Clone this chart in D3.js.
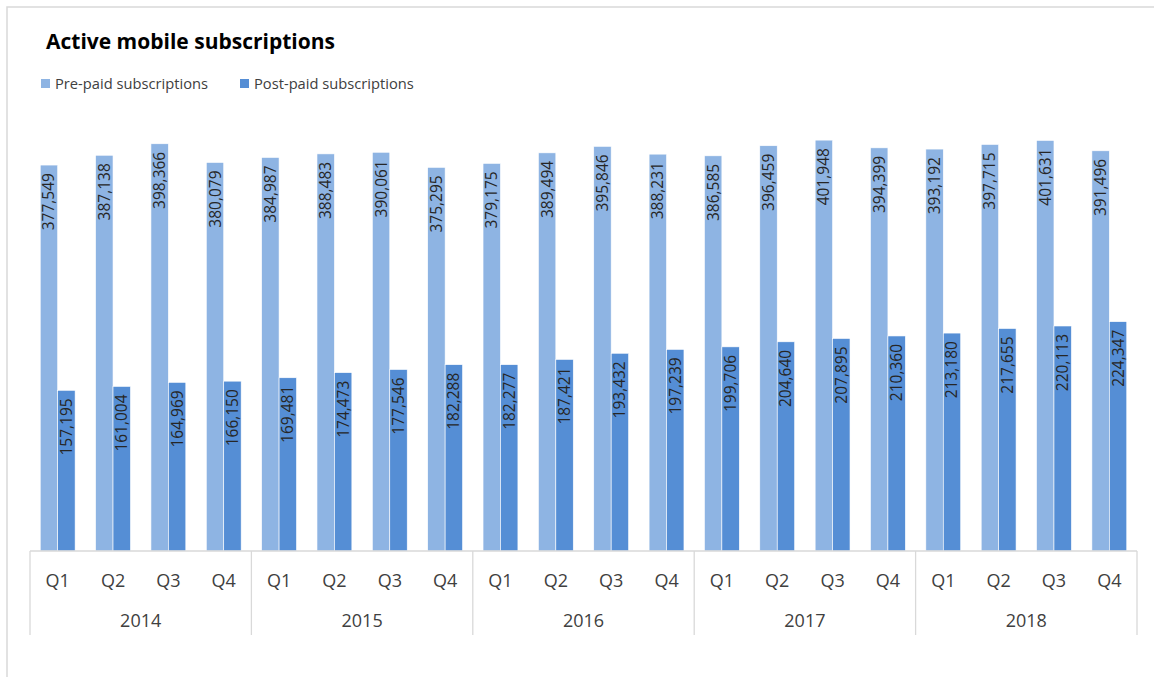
<!DOCTYPE html>
<html>
<head>
<meta charset="utf-8">
<script src="https://cdn.jsdelivr.net/npm/d3@7"></script>
<style>
  html, body { margin: 0; padding: 0; background: #fff; }
  svg { display: block; }
</style>
</head>
<body>
<svg id="chart" width="1154" height="677"></svg>
<script>
// Quarterly active mobile subscriptions, 2014–2018
const years = ["2014", "2015", "2016", "2017", "2018"];
const quarters = ["Q1", "Q2", "Q3", "Q4"];
const seriesNames = ["Pre-paid subscriptions", "Post-paid subscriptions"];
const prePaid = [377549, 387138, 398366, 380079, 384987, 388483, 390061, 375295, 379175, 389494,
                 395846, 388231, 386585, 396459, 401948, 394399, 393192, 397715, 401631, 391496];
const postPaid = [157195, 161004, 164969, 166150, 169481, 174473, 177546, 182288, 182277, 187421,
                  193432, 197239, 199706, 204640, 207895, 210360, 213180, 217655, 220113, 224347];

const colors = ["#8eb4e3", "#558ed5"];
const font = "Open Sans, Liberation Sans, sans-serif";

// one row per quarter
const rows = [];
years.forEach((y, yi) => quarters.forEach((q, qi) => {
  const i = yi * quarters.length + qi;
  rows.push({ key: y + "-" + q, year: y, quarter: q, values: [prePaid[i], postPaid[i]] });
}));

const svg = d3.select("#chart");

// chart frame
svg.append("path")
  .attr("d", "M7,677 L7,7 L1154,7")
  .attr("fill", "none").attr("stroke", "#d9d9d9").attr("stroke-width", 1.5);

// title
svg.append("text")
  .attr("x", 46).attr("y", 49)
  .attr("font-family", font).attr("font-weight", 700).attr("font-size", 21)
  .attr("fill", "#000")
  .text("Active mobile subscriptions");

// legend
const legend = svg.append("g").attr("font-family", font).attr("font-size", 14.7).attr("fill", "#404040");
const legendX = [41, 240];
seriesNames.forEach((name, i) => {
  legend.append("rect").attr("x", legendX[i]).attr("y", 79).attr("width", 9).attr("height", 9).attr("fill", colors[i]);
  legend.append("text").attr("x", legendX[i] + 14).attr("y", 88.5).text(name);
});

// scales
const left = 30, right = 1137, baseY = 551, topY = 91;
const x = d3.scaleBand().domain(rows.map(d => d.key)).range([left, right]).paddingInner(0.37).paddingOuter(0.185);
const xs = d3.scaleBand().domain([0, 1]).range([0, x.bandwidth()]);
const y = d3.scaleLinear().domain([0, 450000]).range([baseY, topY]);

// bars
const groups = svg.append("g").selectAll("g").data(rows).join("g")
  .attr("transform", d => `translate(${x(d.key)},0)`);

groups.selectAll("rect").data(d => d.values.map((v, i) => ({ v, i }))).join("rect")
  .attr("x", d => xs(d.i))
  .attr("y", d => y(d.v))
  .attr("width", xs.bandwidth())
  .attr("height", d => y(0) - y(d.v))
  .attr("fill", d => colors[d.i])
  .attr("stroke", "#ffffff").attr("stroke-width", 0.6);

// value labels, rotated inside the bar end
groups.selectAll("text").data(d => d.values.map((v, i) => ({ v, i }))).join("text")
  .attr("transform", d => `translate(${xs(d.i) + xs.bandwidth() / 2 + 5.5},${y(d.v) + 8}) rotate(-90)`)
  .attr("text-anchor", "end")
  .attr("font-family", font).attr("font-size", 15.5).attr("fill", "#262626")
  .text(d => d3.format(",")(d.v));

// category axis
const axis = svg.append("g").attr("font-family", font).attr("fill", "#404040");
axis.append("line").attr("x1", left).attr("x2", right).attr("y1", baseY).attr("y2", baseY)
  .attr("stroke", "#d9d9d9").attr("stroke-width", 1.3);

const step = x.step();
years.forEach((yr, yi) => {
  const x0 = left + yi * quarters.length * step;
  axis.append("line").attr("x1", x0).attr("x2", x0).attr("y1", baseY).attr("y2", 635)
    .attr("stroke", "#d9d9d9").attr("stroke-width", 1.3);
  axis.append("text").attr("x", x0 + quarters.length * step / 2).attr("y", 627)
    .attr("text-anchor", "middle").attr("font-size", 18).text(yr);
});
axis.append("line").attr("x1", right).attr("x2", right).attr("y1", baseY).attr("y2", 635)
  .attr("stroke", "#d9d9d9").attr("stroke-width", 1.3);

axis.selectAll("text.q").data(rows).join("text").attr("class", "q")
  .attr("x", d => x(d.key) + x.bandwidth() / 2)
  .attr("y", 587)
  .attr("text-anchor", "middle").attr("font-size", 18)
  .text(d => d.quarter);
</script>
</body>
</html>
